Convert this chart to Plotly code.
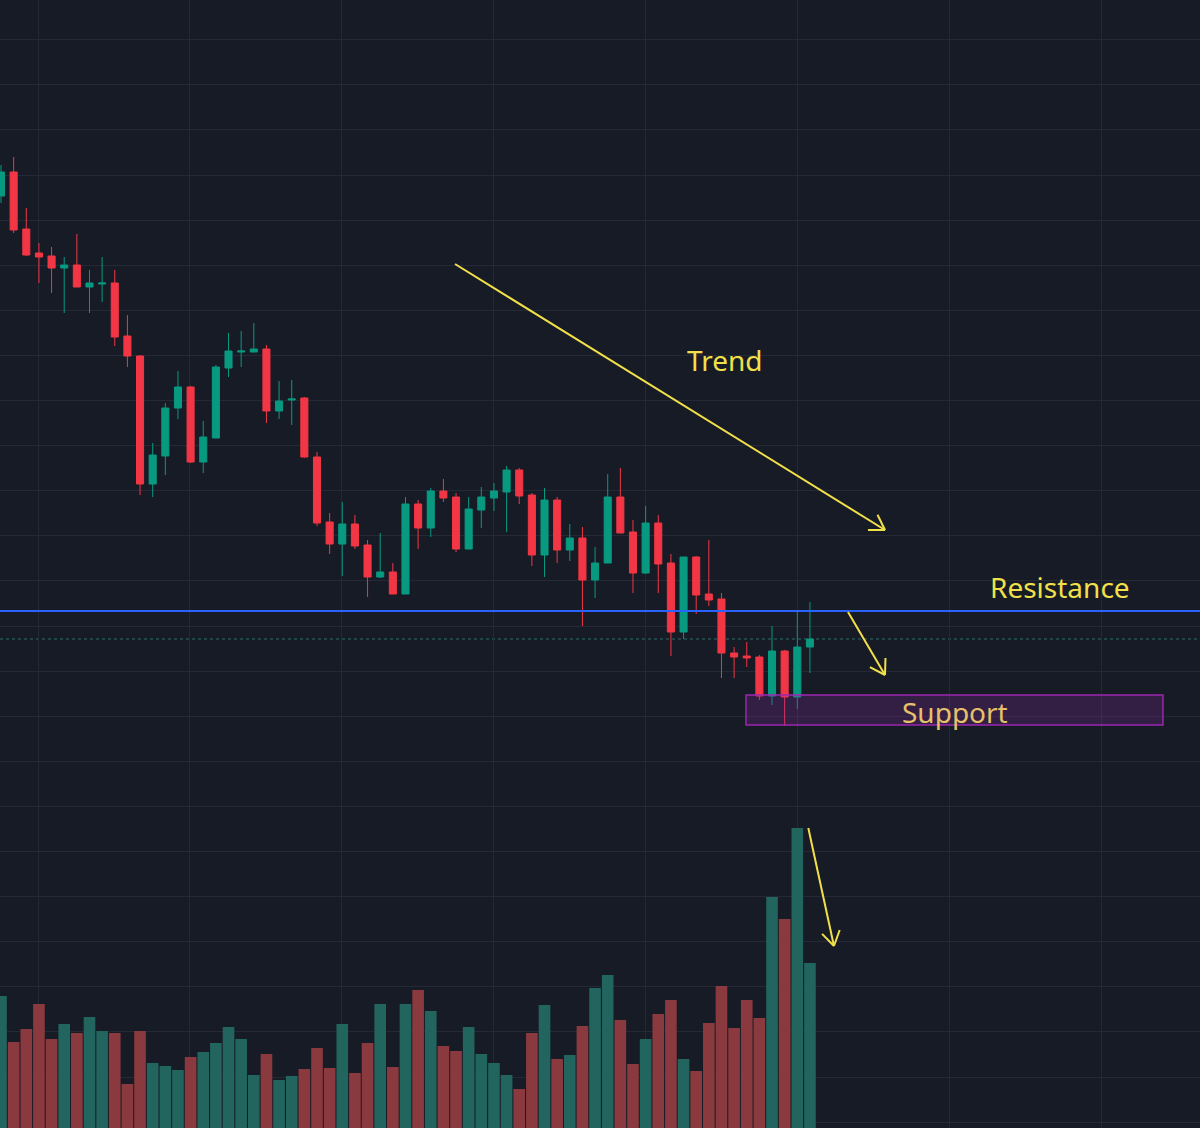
import math
import plotly.graph_objects as go

# ---------------- data ----------------
open_ = [230.4, 232.8, 227.1, 224.7, 224.4, 223.2, 223.5, 221.3, 221.6, 221.7,
         216.4, 214.4, 201.6, 204.4, 209.2, 211.3, 203.8, 206.2, 213.2, 214.8,
         214.8, 215.1, 208.9, 210.0, 210.2, 204.3, 197.8, 195.6, 197.6, 195.5,
         192.3, 192.8, 190.6, 199.6, 197.2, 200.9, 200.3, 195.1, 199.0, 200.2,
         200.8, 203.0, 200.5, 194.5, 200.0, 195.0, 196.2, 192.0, 193.7, 200.3,
         196.8, 192.7, 197.7, 193.7, 186.8, 194.3, 190.6, 190.1, 184.7, 184.4,
         184.3, 180.4, 184.9, 180.3, 185.3]
high = [233.5, 234.3, 229.2, 225.7, 225.3, 224.3, 226.6, 223.0, 224.3, 223.0,
        218.5, 214.5, 205.7, 209.7, 212.9, 211.4, 207.9, 213.5, 216.7, 216.9,
        217.7, 215.5, 211.9, 212.0, 210.3, 204.8, 198.7, 199.8, 198.5, 196.0,
        196.7, 193.7, 200.3, 200.0, 201.2, 202.1, 200.7, 200.3, 201.3, 201.7,
        203.4, 203.2, 200.7, 201.2, 200.3, 197.6, 197.3, 195.3, 202.6, 203.2,
        198.0, 199.4, 198.5, 194.6, 194.3, 194.4, 196.0, 190.7, 185.3, 185.8,
        184.5, 187.4, 185.0, 188.8, 189.8]
low = [229.7, 226.7, 224.4, 221.7, 220.7, 218.7, 221.3, 218.7, 219.8, 215.4,
       213.3, 200.5, 200.3, 202.5, 208.1, 203.7, 202.7, 206.2, 212.3, 213.3,
       214.8, 207.7, 208.1, 207.5, 204.2, 197.4, 194.6, 192.4, 195.1, 190.3,
       192.2, 190.6, 190.6, 195.1, 196.3, 199.8, 194.8, 195.1, 197.2, 198.9,
       196.8, 199.6, 193.4, 192.3, 193.7, 193.9, 187.4, 190.2, 193.7, 196.7,
       190.7, 192.6, 190.7, 184.4, 186.1, 188.6, 189.4, 182.2, 182.2, 183.3,
       180.0, 179.5, 177.4, 179.1, 182.7]
close = [232.8, 227.0, 224.5, 224.3, 223.2, 223.5, 221.3, 221.7, 221.7, 216.3,
         214.4, 201.6, 204.5, 209.2, 211.3, 203.8, 206.3, 213.3, 214.9, 214.9,
         215.1, 208.9, 209.9, 210.1, 204.3, 197.7, 195.6, 197.6, 195.4, 192.3,
         192.8, 190.6, 199.6, 197.2, 200.9, 200.2, 195.1, 199.1, 200.3, 200.9,
         203.0, 200.4, 194.5, 200.0, 195.0, 196.2, 192.0, 193.7, 200.3, 196.7,
         192.7, 197.7, 193.6, 186.8, 194.3, 190.5, 190.0, 184.7, 184.3, 184.2,
         180.4, 184.9, 180.3, 185.3, 186.1]
volume = [1320, 860, 990, 1240, 890, 1040, 950, 1110, 970, 950,
          440, 970, 650, 620, 580, 710, 760, 850, 1010, 890,
          530, 740, 480, 520, 590, 800, 600, 1040, 550, 850,
          1240, 610, 1240, 1380, 1170, 820, 770, 1010, 740, 650,
          530, 390, 950, 1230, 690, 730, 1020, 1400, 1530, 1080,
          640, 890, 1140, 1280, 690, 570, 1050, 1420, 1000, 1280,
          1100, 2310, 2090, 3000, 1650]
bars = list(range(len(close)))

resistance_level = 188.9
support_zone = (177.5, 180.5)

# ---------------- style ----------------
BG = "#171b26"
GRID = "#242935"
UP = "#089981"
DOWN = "#f23645"
VOL_UP = "#22645e"
VOL_DOWN = "#8a3a3e"
YELLOW = "#f2e04a"
W, H = 1200, 1128
XR = [-0.08, 94.86]
YR = [137.2, 250.0]

fig = go.Figure()

vol_colors = [VOL_UP if c >= o else VOL_DOWN for o, c in zip(open_, close)]
fig.add_trace(go.Bar(x=bars, y=volume, marker=dict(color=vol_colors, line=dict(width=0)),
                     width=0.92, yaxis="y2", hoverinfo="skip", showlegend=False))

fig.add_trace(go.Candlestick(
    x=bars, open=open_, high=high, low=low, close=close,
    increasing=dict(line=dict(color=UP, width=1), fillcolor=UP),
    decreasing=dict(line=dict(color=DOWN, width=1), fillcolor=DOWN),
    whiskerwidth=0, showlegend=False))

shapes = []
# last price dotted line
shapes.append(dict(type="line", xref="paper", x0=0, x1=1, yref="y",
                   y0=close[-1], y1=close[-1], layer="below",
                   line=dict(color="#2a6f68", width=1, dash="dot")))
# resistance
shapes.append(dict(type="line", xref="paper", x0=0, x1=1, yref="y",
                   y0=resistance_level, y1=resistance_level,
                   line=dict(color="#2962ff", width=2)))
# support box
shapes.append(dict(type="rect", xref="x", yref="y", x0=58.94, x1=91.93,
                   y0=support_zone[0], y1=support_zone[1],
                   fillcolor="rgba(156,39,176,0.22)",
                   line=dict(color="#9c27b0", width=1.5)))

sx = W / (XR[1] - XR[0])
sy = H / (YR[1] - YR[0])


def arrow(x0, y0, x1, y1, head=17, ang=32):
    out = [dict(type="line", xref="x", yref="y", x0=x0, y0=y0, x1=x1, y1=y1,
                line=dict(color=YELLOW, width=2))]
    dx = (x1 - x0) * sx
    dy = (y1 - y0) * sy
    th = math.atan2(dy, dx)
    for s in (-1, 1):
        a = th + math.pi + s * math.radians(ang)
        hx = x1 + head * math.cos(a) / sx
        hy = y1 + head * math.sin(a) / sy
        out.append(dict(type="line", xref="x", yref="y", x0=x1, y0=y1, x1=hx, y1=hy,
                        line=dict(color=YELLOW, width=2)))
    return out


shapes += arrow(35.92, 223.6, 69.94, 197.0)
shapes += arrow(67.01, 188.8, 69.94, 182.5)
shapes += arrow(63.87, 167.2, 65.9, 155.4)

FONT = "Noto Sans"
annotations = [
    dict(x=57.28, y=214.0, text="Trend", showarrow=False, xref="x", yref="y",
         font=dict(family=FONT, size=28, color=YELLOW)),
    dict(x=83.78, y=191.3, text="Resistance", showarrow=False, xref="x", yref="y",
         font=dict(family=FONT, size=28, color=YELLOW)),
    dict(x=75.47, y=178.8, text="Support", showarrow=False, xref="x", yref="y",
         font=dict(family=FONT, size=28, color="#e6c06a")),
]

fig.update_layout(
    width=W, height=H, margin=dict(l=0, r=0, t=0, b=0),
    paper_bgcolor=BG, plot_bgcolor=BG, showlegend=False,
    boxgap=0.2,
    shapes=shapes, annotations=annotations,
    xaxis=dict(range=XR, showgrid=True, gridcolor=GRID, gridwidth=1,
               tick0=2.93, dtick=12.02, showticklabels=False, zeroline=False,
               rangeslider=dict(visible=False), fixedrange=True),
    yaxis=dict(range=YR, showgrid=True, gridcolor=GRID, gridwidth=1,
               tick0=246.03, dtick=4.51, showticklabels=False, zeroline=False),
    yaxis2=dict(range=[0, 11280], overlaying="y", showgrid=False,
                showticklabels=False, zeroline=False, visible=False),
)

fig.write_html("out.html")
